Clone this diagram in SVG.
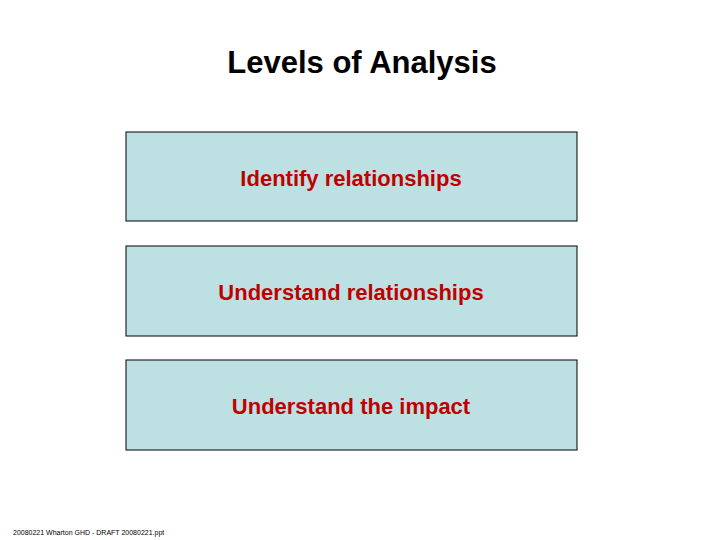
<svg xmlns="http://www.w3.org/2000/svg" width="720" height="540" viewBox="0 0 720 540">
<style>
.box{fill:#bde0e3;stroke:#000;stroke-width:1}
.t{font-family:"Liberation Sans",Arial,sans-serif;font-size:22px;font-weight:bold;text-anchor:middle;fill:#c00000}
</style>
<rect width="720" height="540" fill="#fff"/>
<text x="362" y="73" text-anchor="middle" style="font-family:'Liberation Sans',Arial,sans-serif;font-size:31px;font-weight:bold">Levels of Analysis</text>
<g id="n1"><rect class="box" x="126" y="132" width="451" height="89"/><text class="t" x="351" y="186">Identify relationships</text></g>
<g id="n2"><rect class="box" x="126" y="246" width="451" height="90"/><text class="t" x="351" y="300">Understand relationships</text></g>
<g id="n3"><rect class="box" x="126" y="360" width="451" height="90"/><text class="t" x="351" y="414">Understand the impact</text></g>
<g id="connectors"/>
<text x="13" y="535" style="font-family:'Liberation Sans',Arial,sans-serif;font-size:7px">20080221 Wharton GHD - DRAFT 20080221.ppt</text>
</svg>
